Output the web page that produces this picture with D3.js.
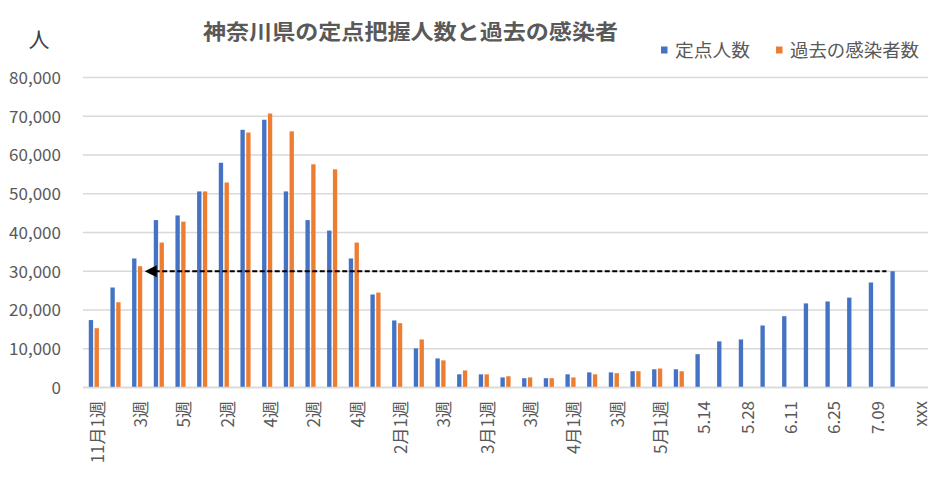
<!DOCTYPE html>
<html>
<head>
<meta charset="utf-8">
<script src="https://cdn.jsdelivr.net/npm/d3@7"></script>
<style>
  body { margin: 0; background: #fff; }
  text { font-family: "Noto Sans CJK JP", "Noto Sans", sans-serif; fill: #595959; }
</style>
</head>
<body>
<div id="chart"></div>
<script>
// categories (week labels), only even ones are shown on the axis
const categories = ["11月1週","2週","3週","4週","5週","12月1週","2週","3週","4週",
  "1月1週","2週","3週","4週","5週","2月1週","2週","3週","4週","3月1週","2週","3週","4週",
  "4月1週","2週","3週","4週","5月1週","2週","5.14","5.21","5.28","6.04","6.11","6.18",
  "6.25","7.02","7.09","7.16","xxx"];

// 定点人数
const teiten = [17400,25800,33300,43200,44400,50600,58000,66500,69100,50600,43200,40500,
  33300,24000,17300,10100,7500,3400,3400,2600,2400,2400,3400,3900,3900,4200,4700,4700,
  8600,11900,12400,16000,18400,21700,22200,23200,27100,30000];

// 過去の感染者数
const kako = [15300,22000,31300,37400,42800,50600,52900,65800,70700,66100,57600,56300,
  37400,24500,16600,12400,7000,4400,3400,2900,2600,2400,2600,3400,3700,4200,4900,4200];

const yTicks = [0,10000,20000,30000,40000,50000,60000,70000,80000];
const seriesNames = ["定点人数", "過去の感染者数"];
const colors = ["#4472C4", "#ED7D31"];

const width = 939;
const height = 480;
const plotLeft = 83, plotRight = 928, plotTop = 77.5, plotBottom = 387.5;

const svg = d3.select("#chart").append("svg")
  .attr("width", width)
  .attr("height", height);

svg.append("rect").attr("width", width).attr("height", height).attr("fill", "#fff");

const x = d3.scaleBand()
  .domain(d3.range(categories.length))
  .range([plotLeft, plotRight]);

const xs = d3.scaleBand()
  .domain([0, 1])
  .range([0, x.bandwidth()])
  .paddingInner(0.25)
  .paddingOuter(1);

const y = d3.scaleLinear()
  .domain([0, 80000])
  .range([plotBottom, plotTop]);

// gridlines
svg.append("g")
  .selectAll("line")
  .data(yTicks)
  .enter()
  .append("line")
  .attr("x1", plotLeft)
  .attr("x2", plotRight)
  .attr("y1", d => y(d))
  .attr("y2", d => y(d))
  .attr("stroke", "#d9d9d9")
  .attr("stroke-width", 1.3);

// y axis labels
const yAxis = d3.axisLeft(y).tickValues(yTicks).tickFormat(d3.format(",")).tickSize(0).tickPadding(0);
svg.append("g")
  .attr("transform", "translate(61,0)")
  .call(yAxis)
  .call(g => g.select(".domain").remove())
  .selectAll("text")
  .style("font-size", "17px")
  .attr("fill", "#595959")
  .attr("dy", "0.35em");

// bars
const series = [teiten, kako];
series.forEach((vals, s) => {
  svg.append("g")
    .selectAll("rect")
    .data(vals)
    .enter()
    .append("rect")
    .attr("x", (d, i) => x(i) + xs(s))
    .attr("y", d => y(d))
    .attr("width", xs.bandwidth())
    .attr("height", d => y(0) - y(d))
    .attr("fill", colors[s]);
});

// x axis baseline
svg.append("line")
  .attr("x1", plotLeft).attr("x2", plotRight)
  .attr("y1", y(0)).attr("y2", y(0))
  .attr("stroke", "#d9d9d9")
  .attr("stroke-width", 1.5);

// x labels (every second category)
svg.append("g")
  .selectAll("text")
  .data(categories.map((c, i) => [c, i]).filter(d => d[1] % 2 === 0))
  .enter()
  .append("text")
  .attr("transform", d => "translate(" + (x(d[1]) + x.bandwidth() / 2 + 4) + ",401) rotate(-90)")
  .attr("text-anchor", "end")
  .attr("dy", "0.35em")
  .style("font-size", "17px")
  .text(d => d[0]);

// dashed arrow at 30,000 back to 3週
const arrowY = y(30000);
const arrowTip = x(2) + xs(1) + xs.bandwidth() + 2.5;
const arrowEnd = x(37) + xs(0) - 4;
svg.append("line")
  .attr("x1", arrowTip + 10)
  .attr("x2", arrowEnd)
  .attr("y1", arrowY).attr("y2", arrowY)
  .attr("stroke", "#000")
  .attr("stroke-width", 2.2)
  .attr("stroke-dasharray", "5,2.5");
svg.append("path")
  .attr("d", "M" + arrowTip + "," + arrowY + " L" + (arrowTip + 12) + "," + (arrowY - 6) +
    " L" + (arrowTip + 12) + "," + (arrowY + 6) + " Z")
  .attr("fill", "#000");

// title
svg.append("text")
  .attr("x", 203).attr("y", 39)
  .attr("textLength", 415)
  .attr("lengthAdjust", "spacingAndGlyphs")
  .style("font-size", "21px")
  .style("font-weight", "bold")
  .text("神奈川県の定点把握人数と過去の感染者");

// unit label
svg.append("text")
  .attr("x", 39).attr("y", 47)
  .attr("text-anchor", "middle")
  .style("font-size", "21px")
  .style("fill", "#404040")
  .text("人");

// legend
const legendX = [661, 776];
const legendW = [75, 129];
seriesNames.forEach((n, i) => {
  svg.append("rect")
    .attr("x", legendX[i]).attr("y", 46.5)
    .attr("width", 6.5).attr("height", 7)
    .attr("fill", colors[i]);
  svg.append("text")
    .attr("x", legendX[i] + 14).attr("y", 56.5)
    .attr("textLength", legendW[i])
    .attr("lengthAdjust", "spacingAndGlyphs")
    .style("font-size", "18px")
    .text(n);
});
</script>
</body>
</html>
